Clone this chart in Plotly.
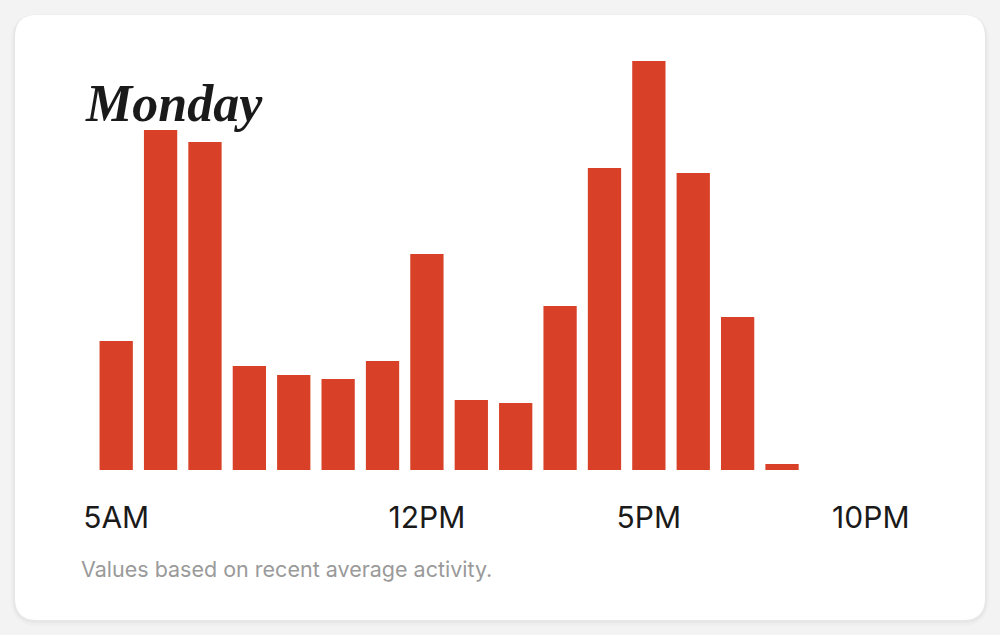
import plotly.graph_objects as go

# Data
hours = [5, 6, 7, 8, 9, 10, 11, 12, 13, 14, 15, 16, 17, 18, 19, 20, 21, 22]
activity = [129, 340, 328, 104, 95, 91, 109, 216, 70, 67, 164, 302, 409, 297, 153, 6, 0, 0]
tick_hours = [5, 12, 17, 22]
tick_labels = ["5AM", "12PM", "5PM", "10PM"]
day_title = "Monday"
footnote = "Values based on recent average activity."

W, H = 1000, 635
BAR_COLOR = "#D84128"

fig = go.Figure()
fig.add_trace(go.Bar(x=hours, y=activity, marker=dict(color=BAR_COLOR, line=dict(width=0)),
                     hoverinfo="skip"))

# card geometry (pixels -> paper fractions)
def px(x):
    return x / W

def py(y):
    return 1 - y / H

def rrect(x0, y0, x1, y1, r):
    return (
        f"M {px(x0+r)} {py(y0)} L {px(x1-r)} {py(y0)} Q {px(x1)} {py(y0)} {px(x1)} {py(y0+r)} "
        f"L {px(x1)} {py(y1-r)} Q {px(x1)} {py(y1)} {px(x1-r)} {py(y1)} "
        f"L {px(x0+r)} {py(y1)} Q {px(x0)} {py(y1)} {px(x0)} {py(y1-r)} "
        f"L {px(x0)} {py(y0+r)} Q {px(x0)} {py(y0)} {px(x0+r)} {py(y0)} Z"
    )

fig.update_layout(
    width=W, height=H,
    autosize=False,
    margin=dict(l=0, r=0, t=0, b=0, pad=0, autoexpand=False),
    paper_bgcolor="#F3F3F3",
    plot_bgcolor="rgba(0,0,0,0)",
    showlegend=False,
    bargap=0.25,
    shapes=[
        dict(type="path", xref="paper", yref="paper", path=rrect(11, 14, 989, 626, 28),
             fillcolor="#EEEEEE", line=dict(width=0), layer="below"),
        dict(type="path", xref="paper", yref="paper", path=rrect(13, 15, 987, 623, 24),
             fillcolor="#E7E7E7", line=dict(width=0), layer="below"),
        dict(type="path", xref="paper", yref="paper", path=rrect(15, 15, 985, 620, 22),
             fillcolor="#FFFFFF", line=dict(width=0), layer="below"),
    ],
    xaxis=dict(
        domain=[px(94), px(893)],
        range=[4.5, 22.5],
        tickvals=tick_hours, ticktext=tick_labels,
        showgrid=False, zeroline=False, showline=False, ticks="",
        ticklabelstandoff=27, automargin=False,
        tickfont=dict(family="Inter", size=30, color="#1A1A1A"),
        fixedrange=True,
    ),
    yaxis=dict(
        domain=[py(470), py(50)],
        range=[0, 420], automargin=False,
        showgrid=False, zeroline=False, showline=False, showticklabels=False, ticks="",
        fixedrange=True,
    ),
    annotations=[
        dict(text=f"<b><i>{day_title}</i></b>", xref="paper", yref="paper",
             x=px(83), y=py(103), xanchor="left", yanchor="middle", showarrow=False,
             font=dict(family="Liberation Serif", size=52, color="#1A1A1A")),
        dict(text=footnote, xref="paper", yref="paper",
             x=px(79), y=py(569), xanchor="left", yanchor="middle", showarrow=False,
             font=dict(family="Inter", size=21.5, color="#9A9A9A")),
    ],
)

fig.write_html("out.html", config={"displayModeBar": False},
               post_script="document.body.style.margin='0px';document.body.style.overflow='hidden';")
